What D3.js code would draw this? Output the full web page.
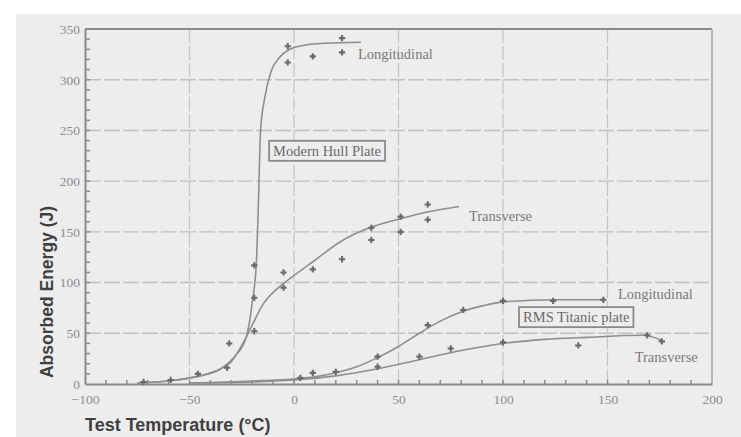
<!DOCTYPE html>
<html>
<head>
<meta charset="utf-8">
<script src="https://cdn.jsdelivr.net/npm/d3@7"></script>
<style>
  html, body { margin: 0; padding: 0; background: #ffffff; }
  svg { display: block; }
</style>
</head>
<body>
<svg id="chart" width="741" height="437"></svg>
<script>
// ---------- data ----------
const xTicks = [-100, -50, 0, 50, 100, 150, 200];
const yTicks = [0, 50, 100, 150, 200, 250, 300, 350];

// Modern plate, longitudinal: fitted curve and measured points  [temp °C, energy J]
const modernLongCurve = [[-75,1],[-60,3],[-45,8],[-35,15],[-28,28],[-23,45],[-20,80],[-18,120],[-17,180],[-16,250],[-14,282],[-11,308],[-7,322],[-2,330],[5,334],[15,336],[32,337]];
const modernLongPoints = [[-72,2],[-59,4],[-46,10],[-32,16],[-19,117],[-19,85],[-3,333],[-3,317],[9,323],[23,341],[23,327]];

// Modern plate, transverse
const modernTransCurve = [[-75,1],[-60,3],[-45,8],[-35,15],[-30,22],[-25,38],[-20,58],[-15,78],[-8,94],[0,107],[10,122],[22,140],[36,154],[51,163],[65,170],[79,175]];
const modernTransPoints = [[-31,40],[-19,52],[-5,110],[-5,95],[9,113],[23,123],[37,154],[37,142],[51,165],[51,150],[64,177],[64,162]];

// Titanic plate, longitudinal
const titanicLongCurve = [[-50,1],[-20,3],[0,5],[10,7],[20,11],[30,17],[40,26],[50,37],[60,50],[70,62],[80,71],[90,77],[100,81],[125,83],[148,83]];
const titanicLongPoints = [[3,6],[20,12],[40,27],[64,58],[81,73],[100,82],[124,82],[148,83]];

// Titanic plate, transverse
const titanicTransCurve = [[-50,1],[-20,2],[0,4],[20,8],[40,15],[60,24],[80,33],[100,40],[120,44],[140,46],[167,48],[176,43]];
const titanicTransPoints = [[9,11],[40,17],[60,27],[75,35],[100,41],[136,38],[169,48],[176,42]];

// annotations: [text, temp, energy]
const curveLabels = [["Longitudinal", 30.6, 320], ["Transverse", 83.7, 161], ["Longitudinal", 155, 84], ["Transverse", 163, 22]];
const plateLabels = [["Modern Hull Plate", -10, 225], ["RMS Titanic plate", 109.6, 61]];

// ---------- drawing ----------
const svg = d3.select("#chart");
const W = 741, H = 437;
const L = 85, R = 712, T = 29, B = 384;

svg.append("rect").attr("x", 16).attr("y", 14).attr("width", W - 16).attr("height", H - 14).attr("fill", "#ededed");

const x = d3.scaleLinear().domain([-100, 200]).range([L, R]);
const y = d3.scaleLinear().domain([0, 350]).range([B, T]);

// grid
const grid = svg.append("g");
grid.selectAll(".gx").data(xTicks.slice(1, -1)).join("line")
  .attr("x1", d => x(d)).attr("x2", d => x(d)).attr("y1", T).attr("y2", B)
  .attr("stroke", "#c4c4c4").attr("stroke-width", 1.2).attr("stroke-dasharray", "14,3");
grid.selectAll(".gy").data(yTicks.slice(1, -1)).join("line")
  .attr("x1", L).attr("x2", R).attr("y1", d => y(d)).attr("y2", d => y(d))
  .attr("stroke", "#c0c0c0").attr("stroke-width", 1.4).attr("stroke-dasharray", "16,3");

// frame
svg.append("line").attr("x1", L).attr("x2", R).attr("y1", T).attr("y2", T).attr("stroke", "#8a8a8a").attr("stroke-width", 2);
svg.append("line").attr("x1", R).attr("x2", R).attr("y1", T).attr("y2", B).attr("stroke", "#b5b5b5").attr("stroke-width", 2);

// axes
const yAxis = d3.axisLeft(y).tickValues(yTicks).tickSize(0).tickPadding(5).tickFormat(d3.format("d"));
const gy = svg.append("g").attr("transform", `translate(${L},0)`).call(yAxis);
const xAxis = d3.axisBottom(x).tickValues(xTicks).tickSize(0).tickPadding(10).tickFormat(d3.format("d"));
const gx = svg.append("g").attr("transform", `translate(0,${B})`).call(xAxis);
[gx, gy].forEach(g => {
  g.select(".domain").attr("stroke", "#8a8a8a").attr("stroke-width", 2);
  g.selectAll("text").attr("fill", "#8c8c8c").attr("font-family", "Liberation Serif, serif").attr("font-size", 13.5);
});

// minor ticks
const yMinor = d3.range(10, 350, 10);
svg.append("g").selectAll("line").data(yMinor).join("line")
  .attr("x1", L).attr("x2", L + 5).attr("y1", d => y(d)).attr("y2", d => y(d))
  .attr("stroke", "#8a8a8a").attr("stroke-width", 1.5);
const xMinor = d3.range(-90, 200, 10);
svg.append("g").selectAll("line").data(xMinor).join("line")
  .attr("x1", d => x(d)).attr("x2", d => x(d)).attr("y1", B).attr("y2", B - 4)
  .attr("stroke", "#8a8a8a").attr("stroke-width", 1.5);

// curves
const line = d3.line().x(d => x(d[0])).y(d => y(d[1])).curve(d3.curveMonotoneX);
const curves = [modernLongCurve, modernTransCurve, titanicLongCurve, titanicTransCurve];
svg.append("g").selectAll("path").data(curves).join("path")
  .attr("d", line).attr("fill", "none").attr("stroke", "#8e8e8e").attr("stroke-width", 1.6);

// points (small crosses)
const pts = [].concat(modernLongPoints, modernTransPoints, titanicLongPoints, titanicTransPoints);
const sym = d3.symbol().type(d3.symbolCross).size(22);
svg.append("g").selectAll("path").data(pts).join("path")
  .attr("transform", d => `translate(${x(d[0])},${y(d[1])})`)
  .attr("d", sym).attr("fill", "#6a6a6a");

// curve labels
svg.append("g").selectAll("text").data(curveLabels).join("text")
  .attr("x", d => x(d[1])).attr("y", d => y(d[2]))
  .attr("font-family", "Liberation Serif, serif").attr("font-size", 14.5).attr("fill", "#7a7a7a")
  .text(d => d[0]);

// boxed plate labels
const pl = svg.append("g").selectAll("g").data(plateLabels).join("g");
pl.append("text")
  .attr("x", d => x(d[1])).attr("y", d => y(d[2]))
  .attr("font-family", "Liberation Serif, serif").attr("font-size", 14.5).attr("fill", "#6a6a6a")
  .text(d => d[0]);
pl.each(function () {
  const g = d3.select(this);
  const bb = g.select("text").node().getBBox();
  g.insert("rect", "text")
    .attr("x", bb.x - 4).attr("y", bb.y - 2).attr("width", bb.width + 8).attr("height", bb.height + 4)
    .attr("fill", "#ededed").attr("stroke", "#8a8a8a").attr("stroke-width", 1.8);
});

// axis titles
svg.append("text").attr("x", L).attr("y", 431)
  .attr("font-family", "Liberation Sans, Arial, sans-serif").attr("font-weight", "bold")
  .attr("font-size", 18).attr("fill", "#404040").text("Test Temperature (°C)");
svg.append("text").attr("transform", `translate(53,292) rotate(-90)`).attr("text-anchor", "middle")
  .attr("font-family", "Liberation Sans, Arial, sans-serif").attr("font-weight", "bold")
  .attr("font-size", 17.5).attr("fill", "#404040").text("Absorbed Energy (J)");
</script>
</body>
</html>
